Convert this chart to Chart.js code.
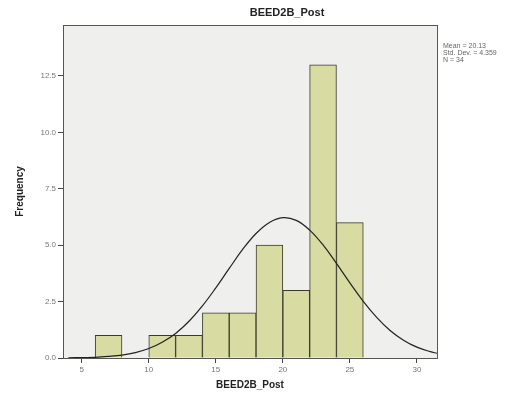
<!DOCTYPE html>
<html>
<head>
<meta charset="utf-8">
<script src="https://cdn.jsdelivr.net/npm/chart.js@4/dist/chart.umd.min.js"></script>
<style>
  html, body { margin: 0; padding: 0; background: #fff; }
  #wrap { width: 532px; height: 403px; }
</style>
</head>
<body>
<div id="wrap"><canvas id="histChart"></canvas></div>
<script>
// histogram bins (bin centre, width 2)
const binCentres = [7, 9, 11, 13, 15, 17, 19, 21, 23, 25];
const binCounts = [1, 0, 1, 1, 2, 2, 5, 3, 13, 6];

// normal curve
const curveX = [4, 5, 6, 7, 8, 9, 10, 11, 12, 13, 14, 15, 16, 17, 18, 19, 20, 21, 22, 23, 24, 25, 26, 27, 28, 29, 30, 31, 31.5];
const curveY = [0.01, 0.02, 0.03, 0.07, 0.13, 0.24, 0.42, 0.7, 1.09, 1.63, 2.31, 3.11, 3.97, 4.81, 5.52, 6.01, 6.22, 6.1, 5.67, 5.01, 4.19, 3.33, 2.51, 1.8, 1.22, 0.79, 0.48, 0.28, 0.21];

const xTicks = [5, 10, 15, 20, 25, 30];
const yTicks = [0, 2.5, 5, 7.5, 10, 12.5];
const statsLines = ['Mean = 20.13', 'Std. Dev. = 4.359', 'N = 34'];

const frame = {
  id: 'frame',
  beforeDraw(chart) {
    const { ctx, chartArea: a } = chart;
    ctx.save();
    ctx.fillStyle = '#efefed';
    ctx.fillRect(a.left, a.top, a.right - a.left, a.bottom - a.top);
    ctx.restore();
  },
  afterDraw(chart) {
    const { ctx, chartArea: a } = chart;
    ctx.save();
    ctx.strokeStyle = '#555';
    ctx.lineWidth = 1;
    ctx.strokeRect(a.left + 0.5, a.top + 0.5, a.right - a.left, a.bottom - a.top);

    ctx.fillStyle = '#222';
    ctx.font = 'bold 11px "Liberation Sans", Arial, sans-serif';
    ctx.textAlign = 'center';
    ctx.textBaseline = 'middle';
    ctx.fillText('BEED2B_Post', 287, 13);

    ctx.fillStyle = '#666';
    ctx.font = '7px "Liberation Sans", Arial, sans-serif';
    ctx.textAlign = 'left';
    statsLines.forEach((s, i) => ctx.fillText(s, 443, 46 + i * 7));
    ctx.restore();
  }
};

new Chart(document.getElementById('histChart'), {
  data: {
    datasets: [
      {
        type: 'line',
        data: curveX.map((x, i) => ({ x: x, y: curveY[i] })),
        borderColor: '#222',
        borderWidth: 1.2,
        pointRadius: 0,
        tension: 0.4,
        fill: false,
        order: 0,
      },
      {
        type: 'bar',
        data: binCentres.map((x, i) => ({ x: x, y: binCounts[i] || null })),
        backgroundColor: '#d8dba2',
        borderColor: '#3b3b2c',
        borderWidth: 1,
        barPercentage: 1,
        categoryPercentage: 1,
        order: 1,
      },
    ],
  },
  options: {
    responsive: true,
    maintainAspectRatio: false,
    animation: false,
    layout: { padding: { top: 25, right: 95, left: 14, bottom: 12 } },
    plugins: { legend: { display: false }, tooltip: { enabled: false } },
    scales: {
      x: {
        type: 'linear',
        min: 3.6,
        max: 31.5,
        offset: false,
        afterFit: (s) => { s.height = 33; },
        afterBuildTicks: (s) => { s.ticks = xTicks.map((v) => ({ value: v })); },
        grid: { offset: false, drawOnChartArea: false, drawTicks: true, tickLength: 5, color: '#444' },
        border: { display: false },
        ticks: { color: '#777', font: { size: 8, family: 'Liberation Sans' }, padding: 2 },
        title: {
          display: true,
          text: 'BEED2B_Post',
          color: '#222',
          font: { size: 10, weight: 'bold', family: 'Liberation Sans' },
          padding: { top: 4, bottom: 0 },
        },
      },
      y: {
        min: 0,
        max: 14.76,
        afterFit: (s) => { s.width = 49; },
        afterBuildTicks: (s) => { s.ticks = yTicks.map((v) => ({ value: v })); },
        grid: { drawOnChartArea: false, drawTicks: true, tickLength: 5, color: '#444' },
        border: { display: false },
        ticks: {
          color: '#777',
          font: { size: 8, family: 'Liberation Sans' },
          padding: 2,
          callback: (v) => v.toFixed(1),
        },
        title: {
          display: true,
          text: 'Frequency',
          color: '#222',
          font: { size: 10, weight: 'bold', family: 'Liberation Sans' },
          padding: { top: 0, bottom: 0 },
        },
      },
    },
  },
  plugins: [frame],
});
</script>
</body>
</html>
